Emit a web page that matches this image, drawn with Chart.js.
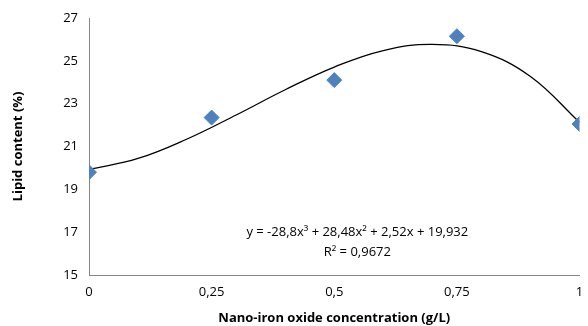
<!DOCTYPE html>
<html>
<head>
<meta charset="utf-8">
<script src="https://cdn.jsdelivr.net/npm/chart.js@4"></script>
<style>
  html, body { margin: 0; padding: 0; background: #fff; }
  #wrap { width: 588px; height: 326px; position: relative; }
</style>
</head>
<body>
<div id="wrap"><canvas id="chart"></canvas></div>
<script>
// measured points
const concX = [0, 0.25, 0.5, 0.75, 1];
const lipidY = [19.8, 22.35, 24.1, 26.15, 22.05];

// trendline
const trendX = [0, 0.1, 0.2, 0.3, 0.4, 0.5, 0.6, 0.7, 0.8, 0.9, 1];
const trendY = [19.93, 20.44, 21.35, 22.47, 23.65, 24.71, 25.48, 25.77, 25.43, 24.27, 22.13];

const xTickLabels = ["0", "0,25", "0,5", "0,75", "1"];
const eqLines = ["y = -28,8x\u00b3 + 28,48x\u00b2 + 2,52x + 19,932", "R\u00b2 = 0,9672"];

const font = "'Open Sans', 'Liberation Sans', sans-serif";

// equation text, placed in data coordinates
const equationLabel = {
  id: "equationLabel",
  afterDatasetsDraw(chart) {
    const { ctx, scales: { x, y } } = chart;
    ctx.save();
    ctx.fillStyle = "#000";
    ctx.font = "13px " + font;
    ctx.textAlign = "center";
    ctx.textBaseline = "middle";
    ctx.fillText(eqLines[0], x.getPixelForValue(0.547), y.getPixelForValue(17.0));
    ctx.fillText(eqLines[1], x.getPixelForValue(0.547), y.getPixelForValue(16.05));
    ctx.restore();
  }
};

new Chart(document.getElementById("chart").getContext("2d"), {
  type: "scatter",
  data: {
    datasets: [
      {
        label: "Trend",
        data: trendX.map((v, i) => ({ x: v, y: trendY[i] })),
        showLine: true,
        borderColor: "#000",
        borderWidth: 1.3,
        pointRadius: 0,
        tension: 0.4,
        order: 2
      },
      {
        label: "Lipid content",
        data: concX.map((v, i) => ({ x: v, y: lipidY[i] })),
        pointStyle: "rectRot",
        pointRadius: 7.5,
        backgroundColor: "#4F81BD",
        borderColor: "#4F81BD",
        order: 1
      }
    ]
  },
  options: {
    responsive: true,
    maintainAspectRatio: false,
    animation: false,
    layout: { padding: { top: 18, right: 0, bottom: 0, left: 10 } },
    plugins: {
      legend: { display: false },
      tooltip: { enabled: false }
    },
    scales: {
      x: {
        type: "linear",
        min: 0,
        max: 1,
        afterBuildTicks: s => { s.ticks = concX.map(v => ({ value: v })); },
        ticks: {
          color: "#000",
          font: { family: font, size: 13 },
          padding: 4,
          maxRotation: 0,
          callback: (v, i) => xTickLabels[i]
        },
        grid: { display: false, drawTicks: true, tickLength: 5, tickColor: "#868686" },
        border: { color: "#868686", width: 1 },
        title: {
          display: true,
          text: "Nano-iron oxide concentration (g/L)",
          color: "#000",
          font: { family: font, size: 13, weight: "bold" },
          padding: { top: 2, bottom: 0 }
        },
        afterFit: s => { s.height = 51; s.paddingRight = 4; s.paddingLeft = 0; }
      },
      y: {
        min: 15,
        max: 27,
        ticks: {
          stepSize: 2,
          color: "#000",
          font: { family: font, size: 13 },
          padding: 6
        },
        grid: { display: false, drawTicks: true, tickLength: 5, tickColor: "#868686" },
        border: { color: "#868686", width: 1 },
        title: {
          display: true,
          text: "Lipid content (%)",
          color: "#000",
          font: { family: font, size: 13, weight: "bold" },
          padding: { top: 0, bottom: 8 }
        },
        afterFit: s => { s.width = 79; }
      }
    }
  },
  plugins: [equationLabel]
});
</script>
</body>
</html>
